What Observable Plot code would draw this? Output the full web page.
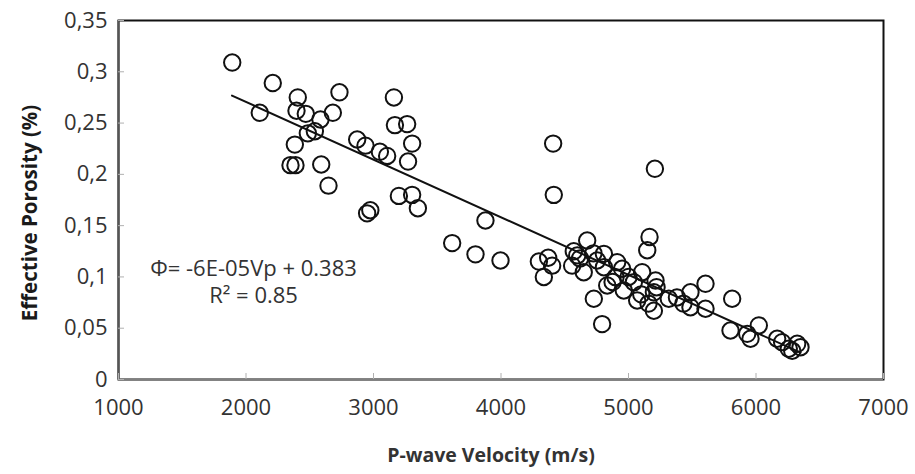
<!DOCTYPE html>
<html>
<head>
<meta charset="utf-8">
<script src="https://cdn.jsdelivr.net/npm/d3@7"></script>
<script src="https://cdn.jsdelivr.net/npm/@observablehq/plot@0.6"></script>
<style>
  html, body { margin: 0; padding: 0; background: #fff; }
</style>
</head>
<body>
<div id="chart"></div>
<script>
const velocity = [
  1892, 2210, 2108, 2406, 2396, 2469, 2584, 2681, 2733, 2485,
  2540, 2383, 2349, 2388, 2590, 2647, 3160, 3168, 3264, 3303,
  2872, 2937, 3050, 3107, 3271, 3199, 3303, 3348, 2950, 2975,
  3878, 3617, 3800, 3996, 4297, 4370, 4401, 4336, 4409, 4414,
  5207, 4571, 4676, 4598, 4558, 4649, 4725, 4728, 4793, 5165,
  5147, 4807, 4754, 4911, 4807, 4898, 4833, 4963, 5107, 5042,
  5068, 5212, 5199, 5199, 5157, 5316, 5431, 5486, 5604, 5604,
  5486, 5813, 5800, 5931, 5957, 6022, 6166, 6205, 6257, 6323,
  6349, 6284, 5000, 4950, 5220, 5100, 4875, 5380, 4620
];
const porosity = [
  0.309, 0.289, 0.260, 0.275, 0.262, 0.259, 0.2535, 0.260, 0.280, 0.240,
  0.242, 0.229, 0.209, 0.209, 0.2096, 0.189, 0.275, 0.248, 0.249, 0.230,
  0.234, 0.228, 0.222, 0.218, 0.2125, 0.179, 0.180, 0.167, 0.162, 0.165,
  0.155, 0.133, 0.122, 0.116, 0.115, 0.1187, 0.111, 0.100, 0.230, 0.180,
  0.2054, 0.125, 0.1355, 0.121, 0.111, 0.1046, 0.123, 0.0787, 0.054, 0.139,
  0.126, 0.1225, 0.116, 0.1144, 0.1095, 0.0998, 0.0917, 0.0868, 0.1046, 0.0949,
  0.077, 0.0965, 0.085, 0.067, 0.074, 0.0787, 0.074, 0.085, 0.0933, 0.069,
  0.0705, 0.0787, 0.0478, 0.0445, 0.0397, 0.0527, 0.0397, 0.0364, 0.030, 0.0348,
  0.0315, 0.028, 0.100, 0.108, 0.090, 0.083, 0.095, 0.080, 0.118
];
const xTicks = [1000, 2000, 3000, 4000, 5000, 6000, 7000];
const xTickLabels = ["1000", "2000", "3000", "4000", "5000", "6000", "7000"];
const yTicks = [0, 0.05, 0.1, 0.15, 0.2, 0.25, 0.3, 0.35];
const yTickLabels = ["0", "0,05", "0,1", "0,15", "0,2", "0,25", "0,3", "0,35"];
const fitRange = [1890, 6350];
const fitSlope = -5.62e-5;
const fitIntercept = 0.383;
const equationText = "Φ= -6E-05Vp + 0.383";
const r2Text = "R² = 0.85";
const xTitle = "P-wave Velocity (m/s)";
const yTitle = "Effective Porosity (%)";

const points = velocity.map((v, i) => ({v, p: porosity[i]}));
const fit = fitRange.map(v => ({v, p: fitIntercept + fitSlope * v}));

const font = "'Open Sans', 'DejaVu Sans', sans-serif";

const chart = Plot.plot({
  width: 915,
  height: 474,
  marginLeft: 118,
  marginRight: 32,
  marginTop: 20,
  marginBottom: 95,
  style: {fontFamily: font, background: "#fff", overflow: "visible"},
  x: {domain: [1000, 7000]},
  y: {domain: [0, 0.35]},
  marks: [
    Plot.frame({stroke: "#111", strokeWidth: 2}),
    Plot.ruleX([1000], {stroke: "#555", strokeWidth: 2}),
    Plot.ruleY([0], {stroke: "#808080", strokeWidth: 2}),
    Plot.axisY({ticks: yTicks, tickSize: -6, stroke: "#b0b0b0", tickFormat: () => "", label: null}),
    Plot.axisX({ticks: xTicks, tickSize: -6, stroke: "#b0b0b0", tickFormat: () => "", label: null}),
    Plot.axisY({
      ticks: yTicks, tickSize: 0, tickPadding: 11, fontSize: 22, fill: "#333",
      tickFormat: d => yTickLabels[yTicks.findIndex(t => Math.abs(t - d) < 1e-9)],
      label: null
    }),
    Plot.axisX({
      ticks: xTicks, tickSize: 0, tickPadding: 20, fontSize: 22, fill: "#333",
      tickFormat: d => xTickLabels[xTicks.indexOf(d)],
      label: null
    }),
    Plot.line(fit, {x: "v", y: "p", stroke: "#111", strokeWidth: 2}),
    Plot.dot(points, {x: "v", y: "p", r: 8.2, stroke: "#111", strokeWidth: 2, fill: "none"}),
    Plot.text([equationText], {x: 2059, y: 0.108, fontSize: 22, fill: "#333", textAnchor: "middle"}),
    Plot.text([r2Text], {x: 2059, y: 0.081, fontSize: 22, fill: "#333", textAnchor: "middle"}),
    Plot.text([xTitle], {frameAnchor: "bottom", textAnchor: "middle", lineAnchor: "middle", dx: -10, dy: 76, fontSize: 19.5, fontWeight: "bold", fill: "#333"}),
    Plot.text([yTitle], {frameAnchor: "left", textAnchor: "middle", lineAnchor: "middle", rotate: -90, dx: -88, dy: 13, fontSize: 20.5, fontWeight: "bold", fill: "#1a1a1a"})
  ]
});
document.getElementById("chart").appendChild(chart);
</script>
</body>
</html>
